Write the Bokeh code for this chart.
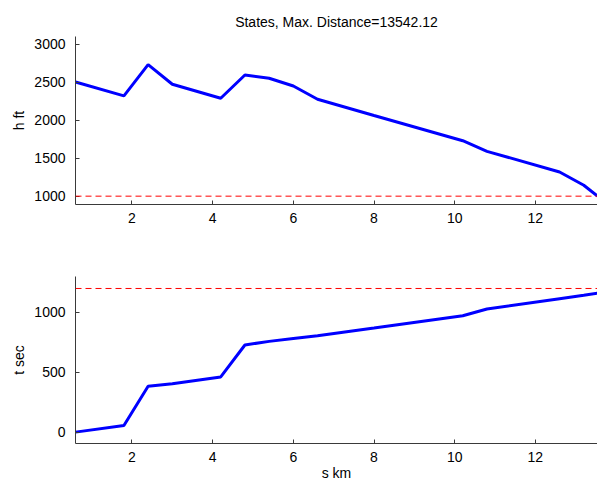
from bokeh.plotting import figure
from bokeh.layouts import column
from bokeh.models import Range1d, Span, FixedTicker
from bokeh.embed import file_html
from bokeh.resources import INLINE

# Data
s_km = [0.6, 1.8, 2.4, 3.0, 4.2, 4.8, 5.4, 6.0, 6.6, 8.0, 10.2, 10.8, 12.6, 13.2, 13.54]
h_ft = [2505, 2322, 2735, 2475, 2291, 2597, 2554, 2453, 2278, 2063, 1731, 1591, 1319, 1144, 1000]
t_sec = [0, 56, 383, 405, 461, 728, 758, 783, 805, 869, 972, 1028, 1115, 1143, 1161]

h_limit = 1000
t_limit = 1200
title_text = "States, Max. Distance=13542.12"
x_ticks = [2, 4, 6, 8, 10, 12]
h_ticks = [1000, 1500, 2000, 2500, 3000]
t_ticks = [0, 500, 1000]

FONT = "Liberation Sans"
AXIS_COLOR = "#3a3a3a"


def style(p):
    p.grid.visible = False
    p.outline_line_color = None
    p.background_fill_color = "white"
    p.border_fill_color = "white"
    for ax in (p.xaxis[0], p.yaxis[0]):
        ax.axis_line_color = AXIS_COLOR
        ax.axis_line_width = 1
        ax.major_tick_line_color = AXIS_COLOR
        ax.major_tick_in = 4
        ax.major_tick_out = 0
        ax.minor_tick_line_color = None
        ax.major_label_text_font = FONT
        ax.major_label_text_font_size = "14px"
        ax.major_label_text_color = "black"
        ax.axis_label_text_font = FONT
        ax.axis_label_text_font_size = "14px"
        ax.axis_label_text_font_style = "normal"
        ax.axis_label_text_color = "black"
    p.xaxis[0].major_label_standoff = 8
    p.yaxis[0].major_label_standoff = 10
    p.xaxis[0].axis_label_standoff = 0
    p.yaxis[0].axis_label_standoff = 4


p1 = figure(width=597, height=240, output_backend="svg", toolbar_location=None,
            x_range=Range1d(0.6, 13.54), y_range=Range1d(890, 3105),
            min_border_left=75, min_border_right=0, min_border_top=36, min_border_bottom=36,
            title=title_text)
p1.title.align = "center"
p1.title.text_font = FONT
p1.title.text_font_size = "14px"
p1.title.text_font_style = "normal"
p1.title.text_color = "black"
p1.title.standoff = 14
p1.line(s_km, h_ft, line_color="#0000ff", line_width=3)
p1.add_layout(Span(location=h_limit, dimension="width", line_color="#ff0000",
                   line_width=1, line_dash="6 4"))
p1.xaxis.ticker = FixedTicker(ticks=x_ticks)
p1.yaxis.ticker = FixedTicker(ticks=h_ticks)
p1.yaxis.axis_label = "h ft"
style(p1)

p2 = figure(width=597, height=243, output_backend="svg", toolbar_location=None,
            x_range=Range1d(0.6, 13.54), y_range=Range1d(-95, 1300),
            min_border_left=75, min_border_right=0, min_border_top=36, min_border_bottom=39)
p2.line(s_km, t_sec, line_color="#0000ff", line_width=3)
p2.add_layout(Span(location=t_limit, dimension="width", line_color="#ff0000",
                   line_width=1, line_dash="6 4"))
p2.xaxis.ticker = FixedTicker(ticks=x_ticks)
p2.yaxis.ticker = FixedTicker(ticks=t_ticks)
p2.xaxis.axis_label = "s km"
p2.yaxis.axis_label = "t sec"
style(p2)

layout = column(p1, p2, spacing=0)
open("out.html", "w").write(file_html(layout, INLINE))
